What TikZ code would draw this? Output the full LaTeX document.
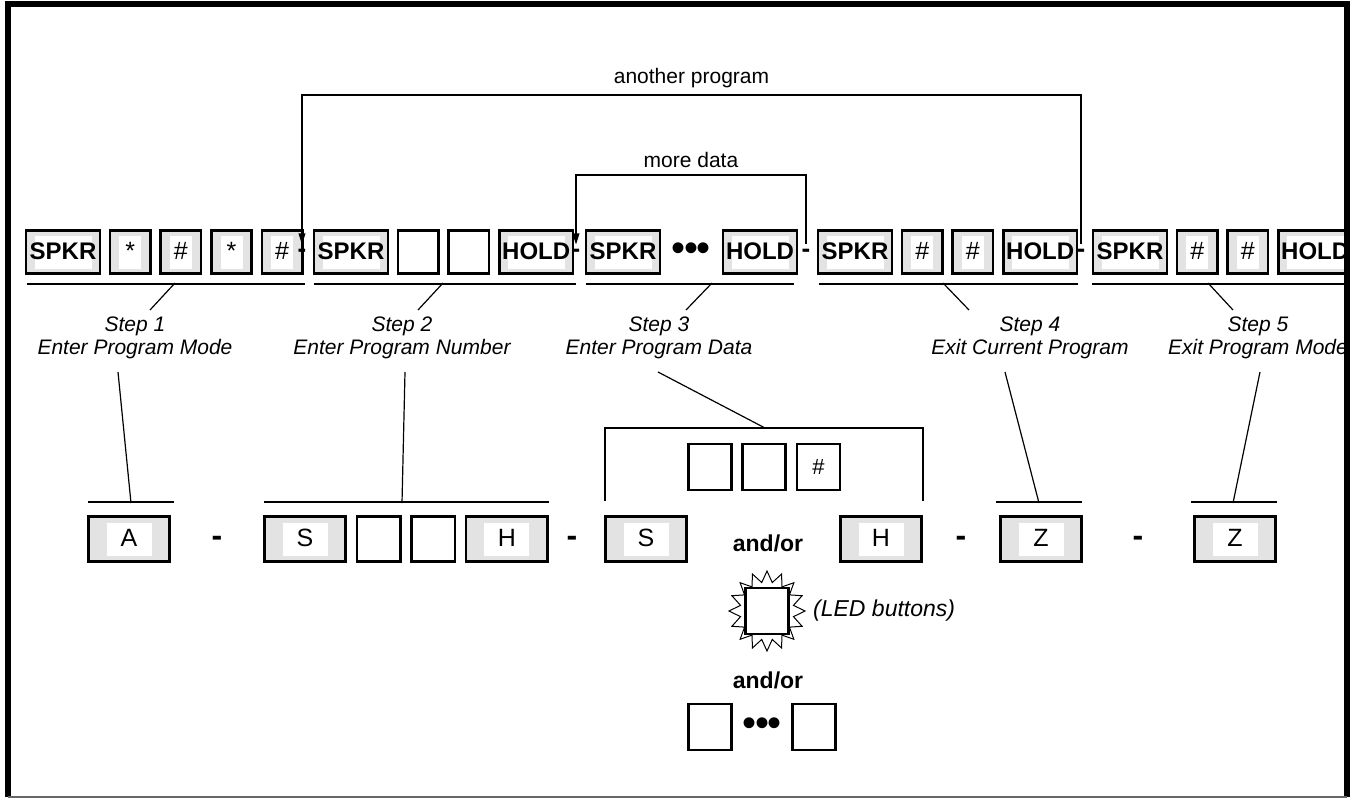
\documentclass[tikz,border=0pt]{standalone}
\usepackage{fontspec}
\setmainfont{Liberation Sans}
\usetikzlibrary{arrows.meta, positioning, calc, shapes.symbols}

\newcommand{\keytxt}[1]{{\setlength{\fboxsep}{0pt}\colorbox{white}{\rule[-4.3pt]{0pt}{16.5pt}\makebox[28.5pt]{\makebox[0pt]{#1}}}}}
\newcommand{\keysym}[1]{{\setlength{\fboxsep}{0pt}\colorbox{white}{\rule[-4.3pt]{0pt}{16.5pt}\makebox[11pt]{#1}}}}
\newcommand{\keylow}[1]{{\setlength{\fboxsep}{0pt}\colorbox{white}{\rule[-4.3pt]{0pt}{16.5pt}\makebox[22.5pt]{#1}}}}
\newcommand{\bigdots}{•\kern-0.75pt•\kern-0.75pt•}

\begin{document}
\begin{tikzpicture}[x=0.5pt, y=-0.5pt,
    keybox/.style={draw, line width=1.3pt, fill=black!11, inner sep=0pt, minimum height=21.7pt},
    widekey/.style={keybox, minimum width=36.9pt, font=\fontsize{12}{14}\selectfont\bfseries},
    narrowkey/.style={keybox, minimum width=20.2pt, font=\fontsize{12.5}{14}\selectfont},
    blankkey/.style={keybox, fill=white, minimum width=20.2pt},
    lowkey/.style={keybox, minimum width=40.7pt, minimum height=22.7pt, font=\fontsize{12.5}{14}\selectfont},
    lowblank/.style={lowkey, fill=white, minimum width=21.7pt},
    sqkey/.style={draw, line width=1.3pt, fill=white, minimum width=21.5pt, minimum height=23pt, inner sep=0pt, font=\fontsize{11}{13}\selectfont},
    sepmark/.style={font=\fontsize{13}{14}\selectfont\bfseries, inner sep=2pt},
    lowsep/.style={font=\fontsize{16}{16}\selectfont\bfseries, inner sep=2pt},
    dotrow/.style={font=\fontsize{20}{20}\selectfont, inner sep=0pt},
    caption/.style={font=\fontsize{10.5}{11.5}\selectfont\itshape, align=center},
    loopnote/.style={font=\fontsize{10.5}{12}\selectfont},
    andor/.style={font=\fontsize{11.5}{13}\selectfont\bfseries},
    thinline/.style={line width=0.6pt},
    arrow/.style={thinline, -{Triangle[length=5.5pt, width=3.4pt]}}
]
\useasboundingbox (0,0) rectangle (1356,798);

\begin{scope}
\clip (7.5,3.5) rectangle (1346.5,797);

\node[widekey] (a1) at (63,252) {\keytxt{SPKR}};
\node[narrowkey, right=3.8pt of a1] (a2) {\keysym{*}};
\node[narrowkey, right=3.8pt of a2] (a3) {\keysym{\#}};
\node[narrowkey, right=3.8pt of a3] (a4) {\keysym{*}};
\node[narrowkey, right=3.8pt of a4] (a5) {\keysym{\#}};
\node[sepmark] (d1) at (302,253) {-};
\node[widekey] (b1) at (351,252) {\keytxt{SPKR}};
\node[blankkey, right=3.8pt of b1] (b2) {};
\node[blankkey, right=3.8pt of b2] (b3) {};
\node[widekey, right=3.8pt of b3] (b4) {\keytxt{HOLD}};
\node[sepmark] (d2) at (576,253) {-};
\node[widekey] (c1) at (623,252) {\keytxt{SPKR}};
\node[dotrow] (c2) at (691,252) {\bigdots};
\node[widekey] (c3) at (760,252) {\keytxt{HOLD}};
\node[sepmark] (d3) at (806,253) {-};
\node[widekey] (e1) at (855,252) {\keytxt{SPKR}};
\node[narrowkey, right=3.8pt of e1] (e2) {\keysym{\#}};
\node[narrowkey, right=3.8pt of e2] (e3) {\keysym{\#}};
\node[widekey, right=3.8pt of e3] (e4) {\keytxt{HOLD}};
\node[sepmark] (d4) at (1081,253) {-};
\node[widekey] (f1) at (1130,252) {\keytxt{SPKR}};
\node[narrowkey, right=3.8pt of f1] (f2) {\keysym{\#}};
\node[narrowkey, right=3.8pt of f2] (f3) {\keysym{\#}};
\node[widekey, right=3.8pt of f3] (f4) {\keytxt{HOLD}};

\coordinate (toprail) at (0,95);
\coordinate (midrail) at (0,175);
\draw[arrow] (d4.north) -- (d4.north |- toprail) -- node[loopnote, above] {another program} (d1.north |- toprail) -- (d1.north);
\draw[arrow] (d3.north) -- (d3.north |- midrail) -- node[loopnote, above] {more data} (d2.north |- midrail) -- (d2.north);

\draw[thinline] ([shift={(2,9)}]a1.south west) -- ([shift={(1,9)}]a5.south east);
\draw[thinline] ([shift={(1,9)}]b1.south west) -- ([shift={(2,9)}]b4.south east);
\draw[thinline] ([shift={(1,9)}]c1.south west) -- ([shift={(-4,9)}]c3.south east);
\draw[thinline] ([shift={(2,9)}]e1.south west) -- ([shift={(0,9)}]e4.south east);
\draw[thinline] ([shift={(0,9)}]f1.south west) -- ([shift={(10,9)}]f4.south east);

\node[caption] (s1) at (135,338) {Step 1\\Enter Program Mode};
\node[caption] (s2) at (402,338) {Step 2\\Enter Program Number};
\node[caption] (s3) at (659,338) {Step 3\\Enter Program Data};
\node[caption] (s4) at (1030,338) {Step 4\\Exit Current Program};
\node[caption] (s5) at (1258,338) {Step 5\\Exit Program Mode};

\coordinate (p1) at (175,283);
\coordinate (q1) at (150,310);
\coordinate (p2) at (443,283);
\coordinate (q2) at (418,310);
\coordinate (p3) at (712,283);
\coordinate (q3) at (686,310);
\coordinate (p4) at (943,283);
\coordinate (q4) at (969,310);
\coordinate (p5) at (1208,283);
\coordinate (q5) at (1233,310);
\draw[thinline] (p1) -- (q1);
\draw[thinline] (p2) -- (q2);
\draw[thinline] (p3) -- (q3);
\draw[thinline] (p4) -- (q4);
\draw[thinline] (p5) -- (q5);

\node[lowkey] (l1) at (129,539) {\keylow{A}};
\node[lowsep] (m1) at (217,541) {-};
\node[lowkey] (l2) at (305,539) {\keylow{S}};
\node[lowblank, right=4.3pt of l2] (l3) {};
\node[lowblank, right=4.3pt of l3] (l4) {};
\node[lowkey, right=4.3pt of l4] (l5) {\keylow{H}};
\node[lowsep] (m2) at (572,541) {-};
\node[lowkey] (l6) at (646,539) {\keylow{S}};
\node[andor] (and1) at (768,543) {and/or};
\node[lowkey] (l7) at (881,539) {\keylow{H}};
\node[lowsep] (m3) at (961,541) {-};
\node[lowkey] (l8) at (1041,539) {\keylow{Z}};
\node[lowsep] (m4) at (1138,541) {-};
\node[lowkey] (l9) at (1235,539) {\keylow{Z}};

\draw[thinline] ([shift={(1,-13)}]l1.north west) -- ([shift={(3,-13)}]l1.north east);
\draw[thinline] ([shift={(1,-13)}]l2.north west) -- ([shift={(0,-13)}]l5.north east);
\draw[thinline] ([shift={(-3,-13)}]l8.north west) -- ([shift={(-1,-13)}]l8.north east);
\draw[thinline] ([shift={(-2,-13)}]l9.north west) -- ([shift={(0,-13)}]l9.north east);

\coordinate (br) at (765,428);
\draw[thinline] ([shift={(1,-14)}]l6.north west) |- (br) -| ([shift={(0,-14)}]l7.north east);

\node[sqkey] (k1) at (710,467) {};
\node[sqkey, right=4.3pt of k1] (k2) {};
\node[sqkey, right=4.3pt of k2] (k3) {\#};

\coordinate (t1) at (118,372);
\coordinate (v1) at (131,503);
\coordinate (t2) at (405,372);
\coordinate (v2) at (402,503);
\coordinate (t3) at (658,372);
\coordinate (t4) at (1005,372);
\coordinate (v4) at (1039,503);
\coordinate (t5) at (1260,372);
\coordinate (v5) at (1233,503);
\draw[thinline] (t1) -- (v1);
\draw[thinline] (t2) -- (v2);
\draw[thinline] (t3) -- (br);
\draw[thinline] (t4) -- (v4);
\draw[thinline] (t5) -- (v5);

\node[starburst, draw, line width=0.5pt, fill=white, minimum width=38pt, minimum height=40pt, starburst points=16, starburst point height=5.5pt, random starburst=0] (burst) at (767,611) {};
\node[sqkey] (led) at (burst.center) {};
\node[font=\fontsize{11.5}{13}\selectfont\itshape, right=0pt of burst] (ledtxt) {(LED buttons)};

\node[andor] (and2) at (768,680) {and/or};
\node[sqkey] (n1) at (710,727) {};
\node[dotrow] (n2) at (762,727) {\bigdots};
\node[sqkey] (n3) at (814,727) {};
\end{scope}

\draw[line width=3pt] (7.5,797) -- (7.5,3.5) -- (1346.5,3.5) -- (1346.5,797);
\draw[line width=0.8pt, black!60] (7.5,797) -- (1346.5,797);
\end{tikzpicture}
\end{document}
